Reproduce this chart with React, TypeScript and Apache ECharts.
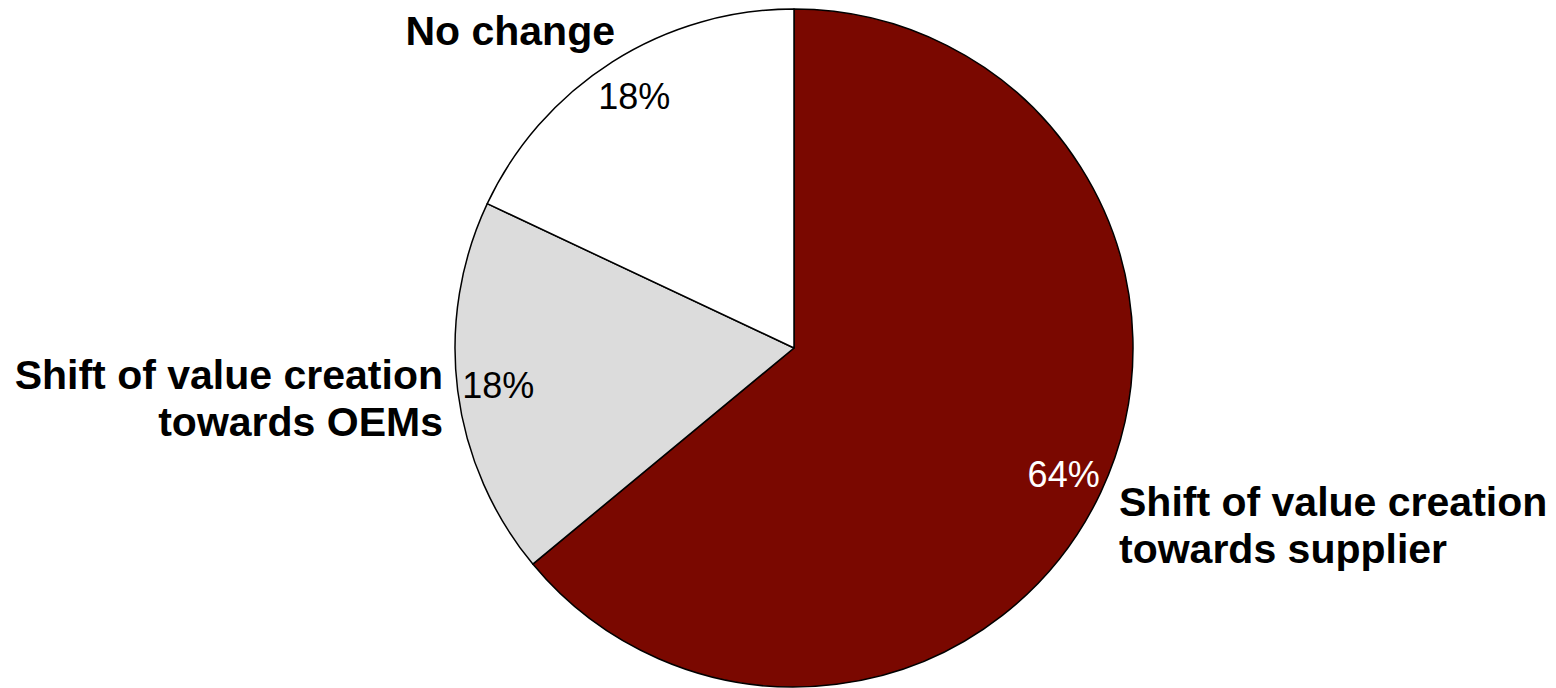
import React, { useEffect, useRef } from "react";
import * as echarts from "echarts";

// Share of respondents per expected shift in value creation
const categories = [
  "Shift of value creation\ntowards supplier",
  "Shift of value creation\ntowards OEMs",
  "No change",
];
const shares = [64, 18, 18];
const sliceColors = ["#7A0800", "#DCDCDC", "#FFFFFF"];
const percentColors = ["#FFFFFF", "#000000", "#000000"];

// Anchor of each category caption (x, y, horizontal alignment)
const captionAnchors: [number, number, "left" | "right"][] = [
  [1119, 525, "left"],
  [443, 398, "right"],
  [615, 31, "right"],
];

const FONT = "'Liberation Sans', Arial, Helvetica, sans-serif";

export default function App() {
  const ref = useRef<HTMLDivElement>(null);

  useEffect(() => {
    if (!ref.current) return;
    const chart = echarts.init(ref.current, undefined, { renderer: "svg" });
    const center = [794, 348];
    const radius = 339;

    chart.setOption({
      animation: false,
      backgroundColor: "#FFFFFF",
      series: [
        {
          type: "pie",
          center,
          radius: [0, radius],
          startAngle: 90,
          clockwise: true,
          silent: true,
          data: categories.map((name, i) => ({
            name,
            value: shares[i],
            itemStyle: { color: sliceColors[i] },
          })),
          itemStyle: { borderColor: "#000000", borderWidth: 1.5 },
          label: {
            show: true,
            position: "outside",
            formatter: "{b}",
            overflow: "none",
            width: 600,
            fontFamily: FONT,
            fontSize: 41,
            fontWeight: "bold",
            lineHeight: 47,
            color: "#000000",
          },
          labelLine: { show: false },
          labelLayout: (params: any) => {
            const a = captionAnchors[params.dataIndex];
            return { x: a[0], y: a[1], align: a[2], verticalAlign: "middle" };
          },
        },
        {
          // transparent ring that places the percentage labels near the rim
          type: "pie",
          center,
          radius: [252, 338],
          startAngle: 90,
          clockwise: true,
          silent: true,
          data: categories.map((name, i) => ({
            name,
            value: shares[i],
            label: { color: percentColors[i] },
          })),
          itemStyle: { color: "rgba(0,0,0,0)", borderWidth: 0 },
          label: {
            show: true,
            position: "inside",
            formatter: "{c}%",
            fontFamily: FONT,
            fontSize: 36,
            fontWeight: "normal",
          },
          labelLine: { show: false },
        },
      ],
    });

    return () => chart.dispose();
  }, []);

  return (
    <div
      ref={ref}
      style={{ position: "absolute", left: 0, top: 0, width: 1556, height: 688 }}
    />
  );
}
